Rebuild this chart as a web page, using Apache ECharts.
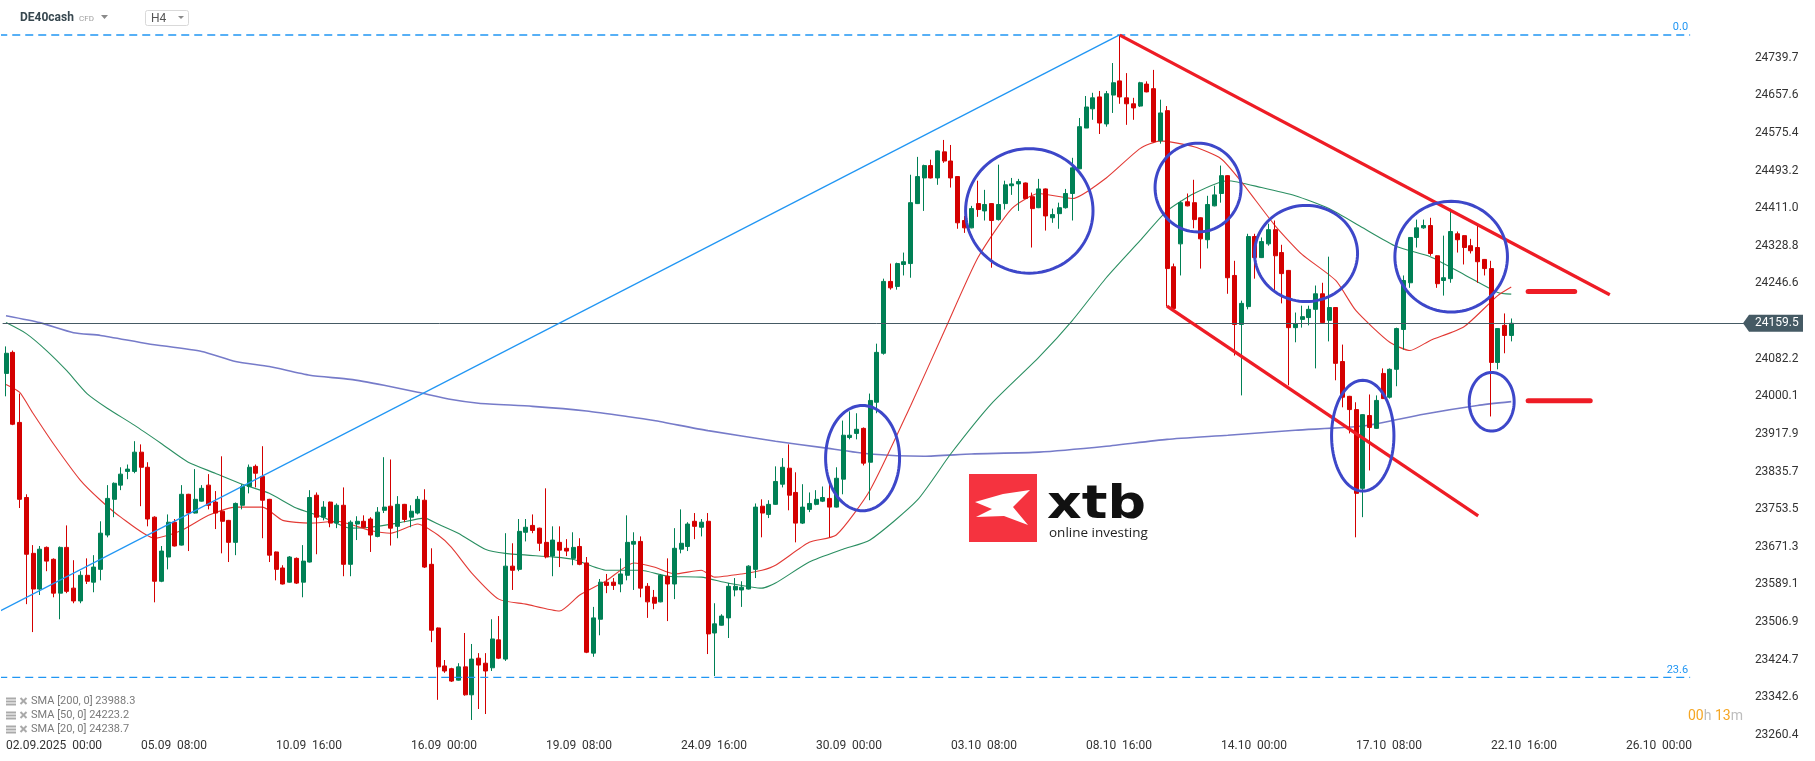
<!DOCTYPE html>
<html>
<head>
<meta charset="utf-8">
<script src="https://cdn.jsdelivr.net/npm/echarts@6.0.0/dist/echarts.min.js"></script>
<style>html,body{margin:0;padding:0;background:#fff;}#c{width:1815px;height:761px;}</style>
</head>
<body>
<div id="c"></div>
<script>
// ---- data ----
const xTickLabels = ['02.09.2025  00:00','05.09  08:00','10.09  16:00','16.09  00:00','19.09  08:00','24.09  16:00','30.09  00:00','03.10  08:00','08.10  16:00','14.10  00:00','17.10  08:00','22.10  16:00','26.10  00:00'];
const yTickLabels = [23260.4,23342.6,23424.7,23506.9,23589.1,23671.3,23753.5,23835.7,23917.9,24000.1,24082.2,24164.4,24246.6,24328.8,24411.0,24493.2,24575.4,24657.6,24739.7];

const openP = [24050,24096,23943,23779,23657,23579,23670,23644,23570,23670,23581,23553,23609,23594,23622,23697,23775,23806,23836,23836,
23878,23845,23736,23596,23649,23725,23675,23786,23745,23771,23806,23769,23749,23729,23681,23762,23803,23847,23825,23775,
23660,23625,23594,23646,23594,23638,23784,23736,23769,23723,23762,23633,23721,23727,23732,23694,23751,23760,23716,23764,
23736,23745,23773,23633,23494,23411,23405,23380,23409,23348,23428,23417,23407,23468,23426,23629,23622,23703,23718,23712,
23681,23651,23681,23668,23646,23672,23636,23439,23513,23594,23594,23590,23609,23677,23683,23585,23561,23551,23607,23590,
23666,23672,23727,23714,23727,23483,23500,23516,23577,23577,23579,23622,23760,23742,23764,23808,23843,23790,23723,23753,
23764,23771,23777,23758,23819,23910,23919,23930,23856,23987,24094,24251,24240,24288,24290,24421,24477,24504,24477,24534,
24514,24480,24384,24368,24421,24405,24421,24386,24421,24460,24464,24466,24436,24412,24453,24390,24399,24412,24443,24497,
24586,24628,24654,24595,24658,24689,24652,24639,24634,24682,24672,24558,24624,24283,24333,24425,24423,24390,24342,24416,
24443,24482,24264,24157,24196,24349,24303,24333,24364,24314,24275,24150,24168,24172,24190,24224,24166,24194,24076,24000,
23971,23799,23958,23930,24050,23998,24059,24146,24248,24347,24368,24373,24307,24253,24257,24355,24351,24329,24325,24299,
24279,24074,24155,24133];
const closeP = [24094,23939,23775,23655,23579,23666,23640,23570,23670,23574,23553,23609,23596,23627,23701,23777,23810,23830,23841,23878,
23845,23732,23596,23662,23725,23673,23786,23745,23775,23799,23762,23745,23727,23681,23766,23803,23845,23832,23773,23653,
23622,23590,23649,23592,23640,23779,23736,23758,23723,23762,23633,23725,23727,23714,23697,23747,23758,23712,23764,23731,
23749,23775,23627,23489,23409,23400,23378,23409,23348,23426,23413,23400,23470,23428,23629,23620,23705,23714,23707,23679,
23649,23686,23664,23662,23670,23633,23441,23516,23594,23587,23587,23612,23681,23683,23581,23551,23548,23609,23590,23668,
23679,23721,23716,23725,23481,23503,23520,23585,23585,23583,23629,23758,23745,23764,23814,23845,23784,23723,23758,23766,
23775,23779,23758,23821,23915,23915,23928,23854,23991,24096,24251,24237,24290,24294,24423,24480,24504,24477,24536,24514,
24477,24379,24368,24410,24408,24419,24384,24419,24462,24464,24469,24432,24410,24453,24394,24397,24412,24443,24499,24589,
24632,24652,24597,24661,24685,24654,24639,24630,24685,24665,24556,24619,24279,24192,24423,24416,24386,24344,24419,24440,
24482,24259,24157,24203,24349,24303,24338,24364,24307,24268,24150,24159,24174,24190,24224,24161,24194,24072,23998,23971,
23788,23960,23932,23991,23995,24059,24148,24253,24347,24368,24373,24312,24246,24259,24360,24342,24325,24318,24294,24279,
24074,24148,24133,24159.5];
const lowP = [24000,23937,23756,23546,23485,23566,23618,23561,23513,23570,23548,23548,23590,23572,23598,23692,23736,23795,23819,23832,
23760,23716,23550,23594,23622,23672,23674,23662,23744,23770,23753,23710,23657,23638,23653,23753,23788,23801,23690,23638,
23598,23589,23593,23590,23561,23637,23655,23729,23714,23712,23607,23607,23686,23713,23660,23692,23745,23674,23690,23725,
23714,23742,23625,23463,23337,23396,23376,23379,23346,23293,23317,23306,23400,23426,23422,23577,23618,23683,23701,23662,
23646,23607,23627,23651,23631,23631,23439,23431,23478,23570,23577,23572,23598,23577,23561,23516,23535,23550,23509,23557,
23657,23662,23688,23694,23437,23389,23499,23472,23563,23540,23578,23603,23692,23734,23763,23801,23751,23681,23721,23747,
23762,23769,23692,23757,23786,23906,23906,23849,23773,23963,24091,24233,24233,24264,24259,24420,24405,24476,24462,24510,
24456,24366,24357,24367,24392,24384,24281,24384,24408,24440,24405,24431,24325,24411,24362,24379,24366,24410,24384,24496,
24586,24604,24573,24589,24619,24639,24593,24604,24632,24664,24555,24552,24196,24191,24264,24415,24367,24279,24323,24415,
24423,24224,24089,24002,24190,24257,24302,24329,24231,24203,24024,24118,24150,24155,24061,24159,24120,24035,23976,23919,
23692,23736,23838,23929,23995,23995,24022,24102,24237,24325,24366,24307,24237,24220,24248,24314,24288,24312,24248,24264,
23956,24059,24094,24120];
const highP = [24109,24100,24006,23786,23675,23673,23672,23646,23672,23718,23642,23618,23646,23653,23727,23806,23812,23845,23851,23902,
23895,23856,23738,23673,23742,23732,23806,23787,23841,23806,23830,23793,23869,23730,23768,23808,23851,23851,23891,23776,
23661,23631,23651,23648,23675,23795,23790,23771,23770,23766,23801,23729,23738,23740,23736,23758,23867,23862,23782,23765,
23762,23782,23797,23668,23495,23424,23407,23417,23483,23459,23439,23439,23513,23520,23701,23679,23732,23732,23742,23713,
23799,23716,23716,23688,23703,23690,23649,23540,23601,23612,23603,23646,23740,23703,23694,23592,23577,23612,23646,23712,
23753,23725,23745,23732,23745,23548,23524,23592,23603,23596,23631,23766,23775,23773,23847,23865,23895,23834,23808,23790,
23795,23803,23810,23845,23947,23967,23963,23932,24006,24115,24257,24290,24292,24314,24484,24523,24506,24517,24537,24560,
24549,24481,24394,24416,24471,24451,24422,24506,24471,24477,24475,24467,24445,24475,24454,24410,24423,24453,24521,24608,
24656,24663,24667,24667,24728,24789,24706,24652,24687,24688,24713,24648,24634,24290,24427,24443,24473,24391,24438,24460,
24504,24483,24296,24209,24355,24355,24347,24377,24384,24331,24276,24183,24198,24198,24242,24248,24305,24195,24113,24001,
23987,23961,24004,24002,24061,24061,24150,24264,24348,24386,24386,24390,24308,24351,24410,24360,24352,24344,24377,24300,
24296,24149,24181,24170];

// moving averages: [candle index, value]
const sma200 = [[0,24176],[5,24161],[10,24139],[14,24133],[21,24115],[29,24098],[34,24076],[39,24065],[45,24046],[51,24037],[56,24024],[61,24009],[66,23993],[70,23985],[78,23978],[86,23968],[92,23956],[96,23947],[104,23925],[114,23902],[121,23888],[128,23874],[136,23869],[143,23874],[153,23878],[163,23891],[172,23906],[181,23915],[191,23926],[201,23935],[210,23961],[218,23980],[223,23988.3]];
const sma50 = [[0,24161],[3,24137],[6,24100],[9,24056],[12,24006],[15,23974],[19,23937],[23,23897],[27,23856],[31,23832],[35,23808],[39,23788],[43,23756],[47,23736],[51,23712],[54,23714],[58,23723],[62,23734],[64,23721],[67,23701],[71,23666],[74,23657],[81,23649],[84,23644],[89,23620],[94,23620],[98,23607],[103,23605],[107,23592],[112,23581],[114,23592],[119,23638],[124,23666],[128,23686],[135,23773],[140,23875],[146,23984],[153,24085],[158,24166],[163,24259],[168,24340],[172,24405],[176,24443],[181,24471],[186,24456],[191,24438],[196,24410],[201,24368],[206,24327],[211,24305],[216,24266],[221,24227],[223,24223.2]];
const sma20 = [[0,24026],[2,24009],[4,23963],[7,23897],[11,23817],[14,23773],[17,23736],[22,23690],[26,23707],[30,23740],[34,23758],[38,23758],[41,23729],[45,23723],[49,23727],[54,23707],[57,23701],[61,23721],[64,23697],[66,23670],[69,23614],[73,23557],[77,23546],[82,23531],[85,23566],[89,23598],[93,23636],[96,23627],[99,23612],[103,23620],[105,23605],[109,23612],[112,23620],[114,23631],[119,23681],[123,23697],[128,23795],[134,23979],[139,24142],[144,24303],[149,24410],[153,24443],[158,24432],[163,24477],[168,24541],[171,24558],[176,24545],[180,24519],[183,24469],[188,24373],[192,24310],[197,24253],[200,24187],[205,24118],[208,24100],[211,24122],[216,24152],[221,24220],[223,24238.7]];

// drawn annotations (candle index, price)
const trendLine = [[-0.89,23531],[164.9,24789]];
const channelUpper = [[165,24789],[237.6,24222]];
const channelLower = [[172,24197],[218.1,23739]];
const resistanceLine = [[225.5,24228.7],[232.4,24228.7]];
const supportLine = [[225.5,23990.3],[234.7,23990.3]];
const fibLevels = [24789.2, 23386.2];
const fibNames = ['0.0','23.6'];
const fibSpan = [-1, 249.5];
// ellipses: [center index, center price, half width (candles), half height (points)]
const ellipses = [[151.6,24405,9.44,136],[176.6,24456,6.37,97],[192.6,24312,7.63,105],[214.1,24305,8.34,121],[126.9,23865,5.48,115],[201.0,23914,4.62,121],[220.1,23988,3.33,64]];

// ---- build ----
const N = 259;
const cats = []; for (let k = 0; k < N; k++) cats.push(String(k));
const candles = openP.map((o, i) => [o, closeP[i], lowP[i], highP[i]]);
const lastPrice = closeP[closeP.length - 1];

const chart = echarts.init(document.getElementById('c'), null, {renderer: 'canvas'});
const FONT = 'Roboto, "Noto Sans", sans-serif';

function lineSeries(data, color, width, extra) {
  return Object.assign({
    type: 'line', xAxisIndex: 1, yAxisIndex: 0, data: data, symbol: 'none',
    silent: true, animation: false, lineStyle: {color: color, width: width}, z: 3
  }, extra || {});
}

const series = [
  lineSeries(sma200, '#6a70c4', 1.6, {smooth: 0.2, z: 2, lineStyle: {color: '#5e64c0', width: 1.6, opacity: 0.85}}),
  lineSeries(sma50, '#2b8f62', 1.1, {smooth: 0.2, z: 2}),
  lineSeries(sma20, '#e23a35', 1.1, {smooth: 0.2, z: 2}),
  {
    type: 'candlestick', xAxisIndex: 0, yAxisIndex: 0, data: candles, barWidth: 4.5,
    animation: false, z: 4,
    itemStyle: {color: '#008055', color0: '#d40000', borderColor: '#008055', borderColor0: '#d40000', borderWidth: 1},
    markLine: {
      symbol: 'none', silent: true, animation: false,
      data: [{yAxis: lastPrice}],
      lineStyle: {color: '#455a64', width: 1, type: 'solid'},
      label: {show: false}
    }
  },
  lineSeries(trendLine, '#2196f3', 1.3, {z: 5}),
  lineSeries(channelUpper, '#ee1c25', 3.3, {z: 6}),
  lineSeries(channelLower, '#ee1c25', 3.3, {z: 6}),
  lineSeries(resistanceLine, '#ee1c25', 5, {z: 6, lineStyle: {color: '#ee1c25', width: 5, cap: 'round'}}),
  lineSeries(supportLine, '#ee1c25', 5, {z: 6, lineStyle: {color: '#ee1c25', width: 5, cap: 'round'}})
];
fibLevels.forEach((lv) => {
  series.push(lineSeries([[fibSpan[0], lv], [fibSpan[1], lv]], '#2196f3', 1.3, {
    z: 5, lineStyle: {color: '#2196f3', width: 1.3, type: [8, 5]}
  }));
});
series.push({
  type: 'custom', xAxisIndex: 1, yAxisIndex: 0, data: ellipses, silent: true, animation: false, z: 7,
  encode: {x: 0, y: 1},
  renderItem: function (params, api) {
    const c = api.coord([api.value(0), api.value(1)]);
    const s = api.size([api.value(2), api.value(3)]);
    const pts = [];
    for (let k = 0; k < 96; k++) {
      const t = k / 96 * Math.PI * 2;
      pts.push([c[0] + s[0] * Math.cos(t), c[1] + s[1] * Math.sin(t)]);
    }
    return {type: 'polygon', shape: {points: pts}, style: {fill: null, stroke: '#3d47c9', lineWidth: 3}};
  }
});

const option = {
  animation: false,
  backgroundColor: '#ffffff',
  grid: {left: 2.625, right: 64.125, top: 0, bottom: 26.1, outerBoundsMode: 'none', containLabel: false},
  xAxis: [
    {
      type: 'category', data: cats, boundaryGap: true,
      axisLine: {show: false}, axisTick: {show: false}, splitLine: {show: false},
      axisLabel: {
        interval: (idx) => idx % 20 === 0,
        formatter: (v, idx) => (idx % 20 === 0 && xTickLabels[idx / 20]) ? xTickLabels[idx / 20] : '',
        align: 'left', margin: 5, fontSize: 12, color: '#333', fontFamily: FONT
      }
    },
    {type: 'value', min: -0.5, max: N - 0.5, show: false}
  ],
  yAxis: [{
    type: 'value', position: 'right', min: 23260.4, max: 24865.7, interval: 82.1833,
    axisLine: {show: false}, axisTick: {show: false}, splitLine: {show: false},
    axisLabel: {
      margin: 4, fontSize: 12, color: '#333', fontFamily: FONT,
      formatter: function (v) {
        let best = null;
        yTickLabels.forEach(t => { if (Math.abs(t - v) < 5) best = t; });
        return best === null ? '' : best.toFixed(1);
      }
    }
  }],
  series: series
};
chart.setOption(option);

// ---- decorations ----
const py = chart.convertToPixel({yAxisIndex: 0}, lastPrice);
const legendRows = [
  'SMA [200, 0] ' + sma200[sma200.length - 1][1].toFixed(1),
  'SMA [50, 0] ' + sma50[sma50.length - 1][1].toFixed(1),
  'SMA [20, 0] ' + sma20[sma20.length - 1][1].toFixed(1)
];
const legendY = [701.5, 715.5, 729.5];
const g = [];
// fib labels
fibLevels.forEach((lv, j) => {
  const fx = chart.convertToPixel({xAxisIndex: 1}, fibSpan[1]);
  const fy = chart.convertToPixel({yAxisIndex: 0}, lv);
  g.push({type: 'text', x: fx - 2, y: fy - 2, z: 100, style: {text: fibNames[j], font: '11px ' + FONT, fill: '#2196f3', textAlign: 'right', textVerticalAlign: 'bottom'}});
});
// header
g.push({type: 'text', x: 20, y: 18, style: {text: 'DE40cash', font: 'bold 12px ' + FONT, fill: '#37474f', textVerticalAlign: 'middle'}, z: 100});
g.push({type: 'text', x: 79, y: 19, style: {text: 'CFD', font: '8px ' + FONT, fill: '#9e9e9e', textVerticalAlign: 'middle'}, z: 100});
g.push({type: 'polygon', shape: {points: [[101, 15], [108, 15], [104.5, 19]]}, style: {fill: '#8a8a8a'}, z: 100});
g.push({type: 'rect', shape: {x: 145.5, y: 10.5, width: 43, height: 15, r: 2}, style: {fill: '#fff', stroke: '#d9d9d9', lineWidth: 1}, z: 100});
g.push({type: 'text', x: 151, y: 18.5, style: {text: 'H4', font: '12px ' + FONT, fill: '#555', textVerticalAlign: 'middle'}, z: 101});
g.push({type: 'polygon', shape: {points: [[178, 16], [184, 16], [181, 19]]}, style: {fill: '#8a8a8a'}, z: 101});
// legend
legendRows.forEach((t, k) => {
  const y = legendY[k];
  g.push({type: 'rect', shape: {x: 6, y: y - 4, width: 10, height: 2}, style: {fill: '#aaa'}, z: 100});
  g.push({type: 'rect', shape: {x: 6, y: y - 1, width: 10, height: 2}, style: {fill: '#aaa'}, z: 100});
  g.push({type: 'rect', shape: {x: 6, y: y + 2, width: 10, height: 2}, style: {fill: '#aaa'}, z: 100});
  g.push({type: 'line', shape: {x1: 20.5, y1: y - 3.5, x2: 26.5, y2: y + 2.5}, style: {stroke: '#aaa', lineWidth: 2}, z: 100});
  g.push({type: 'line', shape: {x1: 26.5, y1: y - 3.5, x2: 20.5, y2: y + 2.5}, style: {stroke: '#aaa', lineWidth: 2}, z: 100});
  g.push({type: 'text', x: 31, y: y, style: {text: t, font: '11px ' + FONT, fill: '#7a7a7a', textVerticalAlign: 'middle'}, z: 100});
});
// countdown
g.push({type: 'text', x: 1688, y: 716, z: 100, style: {
  text: '{o|00}{g|h }{o|13}{g|m}', textVerticalAlign: 'middle',
  rich: {o: {fontSize: 14, fontFamily: FONT, fill: '#f5a623', color: '#f5a623'}, g: {fontSize: 14, fontFamily: FONT, fill: '#bdbdbd', color: '#bdbdbd'}}
}});
// price tag
g.push({type: 'polygon', z: 120, shape: {points: [[1743, py], [1749, py - 8.5], [1803, py - 8.5], [1803, py + 8.5], [1749, py + 8.5]]}, style: {fill: '#455a64'}});
g.push({type: 'text', z: 121, x: 1755, y: py, style: {text: lastPrice.toFixed(1), font: '12px ' + FONT, fill: '#fff', textVerticalAlign: 'middle'}});
// xtb logo watermark
g.push({type: 'rect', z: 1, shape: {x: 969, y: 474, width: 68, height: 68}, style: {fill: '#f5333f'}});
g.push({type: 'polygon', z: 2, shape: {points: [[975, 502], [1003, 494], [1030, 490], [1013, 507], [1028, 525], [1004, 516], [976, 517], [992, 509]]}, style: {fill: '#ffffff'}});
g.push({type: 'text', z: 2, x: 1047, y: 506, scaleX: 1.17, style: {text: 'xtb', font: 'bold 46px "DejaVu Sans"', fill: '#111', textVerticalAlign: 'middle'}});
g.push({type: 'text', z: 2, x: 1049, y: 533, style: {text: 'online investing', font: '13.5px "Open Sans"', fill: '#222', textVerticalAlign: 'middle'}});

chart.setOption({graphic: {elements: g}});
</script>
</body>
</html>
